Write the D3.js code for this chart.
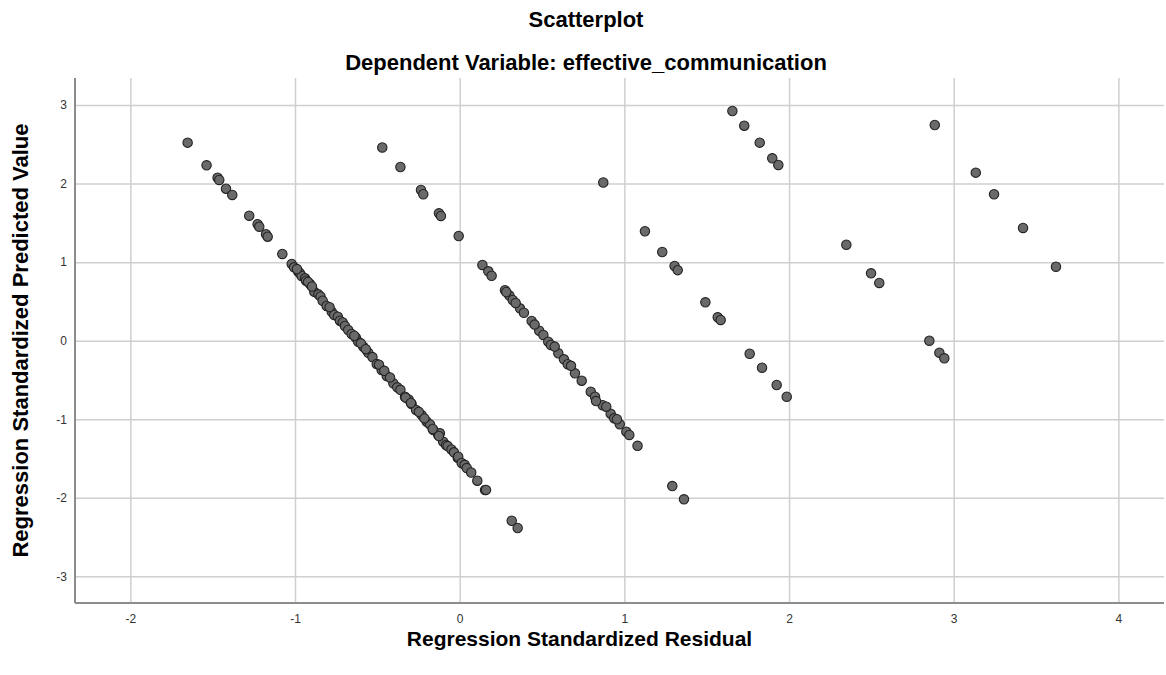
<!DOCTYPE html>
<html>
<head>
<meta charset="utf-8">
<script src="https://cdn.jsdelivr.net/npm/d3@7"></script>
<style>
  body { margin: 0; background: #ffffff; }
  svg { display: block; font-family: Arial, "Liberation Sans", sans-serif; }
</style>
</head>
<body>
<svg id="svg" width="1166" height="675"></svg>
<script>
// residual / predicted pairs
const residual = [
  -1.652, -1.537, -1.470, -1.460, -1.419, -1.381, -1.278, -1.227, -1.217, -1.176,
  -1.166, -1.077, -1.020, -1.006, -0.980, -0.970, -0.960, -0.939, -0.933, -0.909,
  -0.883, -0.858, -0.845, -0.832, -0.808, -0.777, -0.762, -0.740, -0.727, -0.710,
  -0.697, -0.677, -0.656, -0.630, -0.616, -0.585, -0.555, -0.530, -0.504, -0.474,
  -0.443, -0.403, -0.379, -0.360, -0.332, -0.310, -0.292, -0.265, -0.231, -0.200,
  -0.180, -0.160, -0.130, -0.120, -0.100, -0.083, -0.073, -0.050, -0.035, -0.012,
  -0.009, 0.012, 0.030, 0.043, 0.070, 0.107, 0.154, 0.160, 0.316, 0.352,
  -0.988, -0.921, -0.897, -0.790, -0.640, -0.600, -0.570, -0.490, -0.458, -0.423,
  -0.328, -0.296, -0.248, -0.214, -0.164, -0.126,
  // second band
  -0.470, -0.360, -0.235, -0.221, -0.126, -0.114, -0.006, 0.138, 0.174, 0.194,
  0.275, 0.302, 0.322, 0.366, 0.390, 0.437, 0.483, 0.508, 0.538, 0.554,
  0.599, 0.633, 0.656, 0.700, 0.741, 0.796, 0.822, 0.868, 0.917, 0.938,
  0.972, 1.012, 1.030, 1.080, 1.291, 1.362,
  0.283, 0.340, 0.455, 0.577, 0.676, 0.828, 0.890, 0.955,
  // third band
  0.872, 1.125, 1.230, 1.305, 1.324, 1.492, 1.567, 1.585, 1.761, 1.836, 1.925, 1.986,
  // fourth band
  1.656, 1.728, 1.822, 1.898, 1.935, 2.348, 2.498, 2.548, 2.852, 2.913, 2.943,
  // fifth band
  2.885, 3.134, 3.245, 3.421, 3.621
]
const predicted = [
  2.521, 2.233, 2.075, 2.046, 1.935, 1.855, 1.591, 1.482, 1.451, 1.355,
  1.324, 1.104, 0.976, 0.934, 0.878, 0.858, 0.824, 0.794, 0.764, 0.722,
  0.624, 0.590, 0.564, 0.509, 0.442, 0.369, 0.327, 0.306, 0.255, 0.233,
  0.187, 0.136, 0.085, 0.037, -0.013, -0.076, -0.153, -0.208, -0.297, -0.373,
  -0.449, -0.542, -0.593, -0.625, -0.713, -0.747, -0.806, -0.882, -0.946, -1.031,
  -1.066, -1.137, -1.200, -1.179, -1.286, -1.328, -1.341, -1.384, -1.421, -1.489,
  -1.477, -1.557, -1.580, -1.621, -1.678, -1.782, -1.901, -1.899, -2.292, -2.384,
  0.912, 0.749, 0.690, 0.427, 0.063, -0.034, -0.108, -0.305, -0.383, -0.468,
  -0.725, -0.793, -0.906, -0.989, -1.124, -1.213,
  2.460, 2.211, 1.919, 1.864, 1.622, 1.588, 1.333, 0.964, 0.883, 0.827,
  0.642, 0.575, 0.518, 0.412, 0.356, 0.251, 0.127, 0.073, -0.013, -0.055,
  -0.160, -0.237, -0.300, -0.415, -0.509, -0.649, -0.713, -0.822, -0.929, -0.988,
  -1.063, -1.158, -1.200, -1.338, -1.850, -2.019,
  0.620, 0.480, 0.205, -0.075, -0.320, -0.768, -0.840, -1.000,
  2.014, 1.393, 1.129, 0.951, 0.898, 0.489, 0.298, 0.264, -0.166, -0.344, -0.564, -0.713,
  2.924, 2.737, 2.521, 2.322, 2.237, 1.222, 0.858, 0.735, 0.000, -0.153, -0.224,
  2.746, 2.139, 1.864, 1.435, 0.942
]
const xTicks = [-2, -1, 0, 1, 2, 3, 4]
const yTicks = [3, 2, 1, 0, -1, -2, -3]
const xDomain = [-2.336, 4.277]
const yDomain = [-3.339, 3.344]

const chartTitle = 'Scatterplot'
const chartSubtitle = 'Dependent Variable: effective_communication'
const xLabel = 'Regression Standardized Residual'
const yLabel = 'Regression Standardized Predicted Value'

const svg = d3.select('#svg')

const padding = { top: 78, right: 2, bottom: 72, left: 75 }
const chartArea = {
  width: 1166 - padding.left - padding.right,
  height: 675 - padding.top - padding.bottom
}

const xScale = d3.scaleLinear().domain(xDomain).range([0, chartArea.width])
const yScale = d3.scaleLinear().domain(yDomain).range([chartArea.height, 0])

const plot = svg.append('g')
  .attr('transform', 'translate(' + padding.left + ',' + padding.top + ')')

// grid
const xGrid = plot.append('g')
  .attr('transform', 'translate(0,' + chartArea.height + ')')
  .call(d3.axisBottom(xScale).tickValues(xTicks).tickSize(-chartArea.height).tickFormat(''))
const yGrid = plot.append('g')
  .call(d3.axisLeft(yScale).tickValues(yTicks).tickSize(-chartArea.width).tickFormat(''))
;[xGrid, yGrid].forEach(g => {
  g.select('.domain').remove()
  g.selectAll('line').attr('stroke', '#cfcfcf').attr('stroke-width', 1.5)
})

// points
plot.append('g')
  .selectAll('circle')
  .data(residual)
  .enter()
  .append('circle')
  .attr('cx', d => xScale(d))
  .attr('cy', (d, i) => yScale(predicted[i]))
  .attr('r', 4.7)
  .attr('fill', '#6a6a6a')
  .attr('stroke', '#222')
  .attr('stroke-width', 1.1)

// tick labels
const xAxis = plot.append('g')
  .attr('transform', 'translate(0,' + chartArea.height + ')')
  .call(d3.axisBottom(xScale).tickValues(xTicks).tickSize(0).tickPadding(11).tickFormat(d => String(d)))
const yAxis = plot.append('g')
  .call(d3.axisLeft(yScale).tickValues(yTicks).tickSize(0).tickPadding(8).tickFormat(d => String(d)))
;[xAxis, yAxis].forEach(g => {
  g.select('.domain').remove()
  g.selectAll('text').attr('font-size', 12).attr('fill', '#333').attr('font-family', 'Arial, "Liberation Sans", sans-serif')
})

// axis lines
plot.append('line')
  .attr('x1', 0).attr('x2', 0).attr('y1', 0).attr('y2', chartArea.height)
  .attr('stroke', '#8c8c8c').attr('stroke-width', 2)
plot.append('line')
  .attr('x1', 0).attr('x2', chartArea.width).attr('y1', chartArea.height).attr('y2', chartArea.height)
  .attr('stroke', '#8c8c8c').attr('stroke-width', 2)

// titles
svg.append('text')
  .attr('x', 586).attr('y', 27)
  .attr('text-anchor', 'middle')
  .attr('font-size', 22).attr('font-weight', 'bold').attr('fill', '#000')
  .text(chartTitle)
svg.append('text')
  .attr('x', 586).attr('y', 70)
  .attr('text-anchor', 'middle')
  .attr('font-size', 22).attr('font-weight', 'bold').attr('fill', '#000')
  .text(chartSubtitle)
svg.append('text')
  .attr('x', padding.left + chartArea.width / 2 - 40).attr('y', 646)
  .attr('text-anchor', 'middle')
  .attr('font-size', 21).attr('font-weight', 'bold').attr('fill', '#000')
  .text(xLabel)
svg.append('text')
  .attr('transform', 'translate(28,' + (padding.top + chartArea.height / 2) + ') rotate(-90)')
  .attr('text-anchor', 'middle')
  .attr('font-size', 22).attr('font-weight', 'bold').attr('fill', '#000')
  .text(yLabel)
</script>
</body>
</html>
